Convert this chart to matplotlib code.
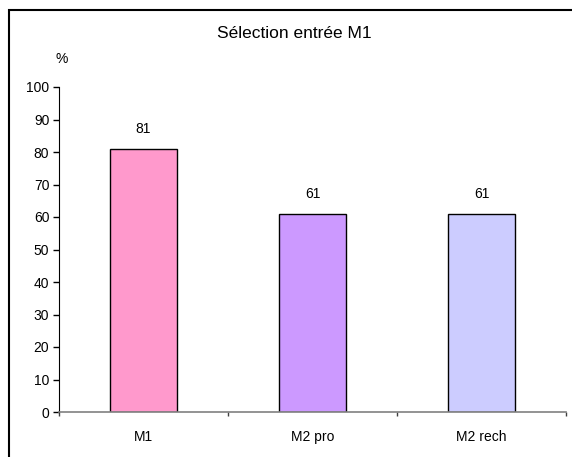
import matplotlib.pyplot as plt
from matplotlib.patches import Rectangle

categories = ["M1", "M2 pro", "M2 rech"]
values = [81, 61, 61]
colors = ["#FF99CC", "#CC99FF", "#CCCCFF"]
yticks = list(range(0, 101, 10))

plt.rcParams["font.family"] = ["Liberation Sans", "DejaVu Sans"]

fig = plt.figure(figsize=(5.72, 4.57), dpi=100)
ax = fig.add_axes([59 / 572, 45 / 457, 507 / 572, 325 / 457])

x = range(len(categories))
bars = ax.bar(x, values, width=0.4, color=colors, edgecolor="black", linewidth=1)
for b, v in zip(bars, values):
    ax.annotate(str(v), (b.get_x() + b.get_width() / 2, v), xytext=(0, 14),
                textcoords="offset points", ha="center", va="center", fontsize=10)

ax.set_xlim(-0.5, len(categories) - 0.5)
ax.set_ylim(0, 100)
ax.set_yticks(yticks)
ax.tick_params(axis="y", direction="out", length=4, width=1, labelsize=10, pad=3)

# category labels in the middle, small ticks at the boundaries
ax.set_xticks(list(x))
ax.set_xticklabels(categories, fontsize=10)
ax.tick_params(axis="x", length=0, pad=13)
ax.set_xticks([i - 0.5 for i in range(len(categories) + 1)], minor=True)
ax.tick_params(axis="x", which="minor", direction="out", length=3, width=1, color="#404040")

for s in ["top", "right"]:
    ax.spines[s].set_visible(False)
ax.spines["left"].set_color("black")
ax.spines["bottom"].set_color("#808080")
ax.spines["bottom"].set_linewidth(1.2)

fig.text(294 / 572, 1 - 33 / 457, "Sélection entrée M1", ha="center", va="center", fontsize=12.5)
fig.text(62 / 572, 1 - 59 / 457, "%", ha="center", va="center", fontsize=10)

fig.patches.append(Rectangle((8.5 / 572, -0.05), 1.0, 1 - 9.5 / 457 + 0.05,
                             transform=fig.transFigure, fill=False,
                             edgecolor="black", linewidth=1.5))

fig.savefig("out.png", dpi=100)
